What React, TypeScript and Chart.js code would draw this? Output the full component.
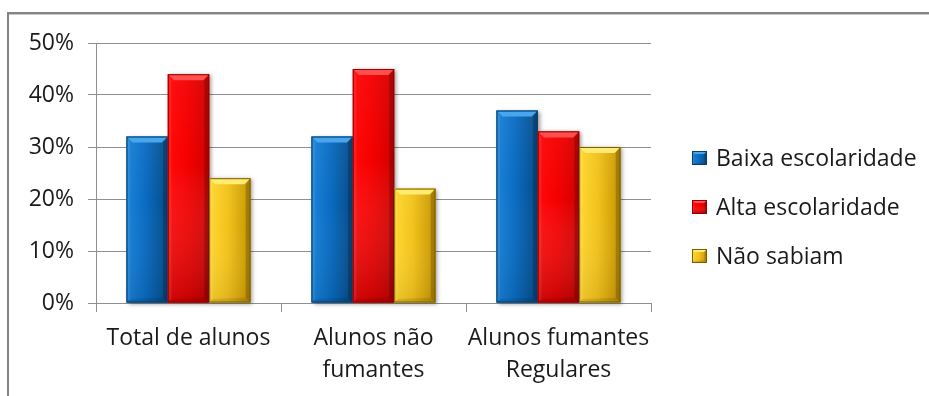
import React, { useEffect, useRef } from 'react';
import { Chart, registerables } from 'chart.js';

Chart.register(...registerables);

const categories: string[][] = [['Total de alunos'], ['Alunos não', 'fumantes'], ['Alunos fumantes', 'Regulares']];
const seriesNames = ['Baixa escolaridade', 'Alta escolaridade', 'Não sabiam'];
const baixaEscolaridade = [32, 32, 37];
const altaEscolaridade = [44, 45, 33];
const naoSabiam = [24, 22, 30];
const yTickValues = [0, 10, 20, 30, 40, 50];

type Pal = { base: string; left: string; mid: string; right: string; top: string; bottomTint: string; edge: string };

const palettes: Pal[] = [
  { base: '#0b6fc6', left: '#1a82d8', mid: '#0a6cc2', right: '#064a86', top: '#4aa6ec', bottomTint: 'rgba(0,0,0,0.08)', edge: '#06406f' },
  { base: '#ff0000', left: '#ff0808', mid: '#f60000', right: '#d00000', top: '#ff5050', bottomTint: 'rgba(80,0,0,0.28)', edge: '#9a0000' },
  { base: '#f5c518', left: '#ffd830', mid: '#f2c21c', right: '#c49400', top: '#ffec70', bottomTint: 'rgba(60,40,0,0.10)', edge: '#7c6000' },
];

const FONT = "'Open Sans', 'DejaVu Sans', sans-serif";
const TEXT = '#1a1a1a';
const GRID = '#8f8f8f';

function drawBevelRect(ctx: CanvasRenderingContext2D, L: number, T: number, R: number, B: number, p: Pal, b: number, shadow: boolean) {
  const w = R - L;
  const h = B - T;
  if (h <= 0) return;
  if (shadow) {
    ctx.save();
    ctx.shadowColor = 'rgba(0,0,0,0.4)';
    ctx.shadowBlur = 4;
    ctx.shadowOffsetX = 2;
    ctx.shadowOffsetY = 1;
    ctx.fillStyle = p.mid;
    ctx.fillRect(L, T, w, h);
    ctx.restore();
  }
  const g = ctx.createLinearGradient(L, 0, R, 0);
  g.addColorStop(0, p.left);
  g.addColorStop(0.45, p.mid);
  g.addColorStop(1, p.right);
  ctx.fillStyle = g;
  ctx.fillRect(L, T, w, h);
  const v = ctx.createLinearGradient(0, T, 0, B);
  v.addColorStop(0, 'rgba(255,255,255,0.04)');
  v.addColorStop(0.4, 'rgba(255,255,255,0)');
  v.addColorStop(1, p.bottomTint);
  ctx.fillStyle = v;
  ctx.fillRect(L, T, w, h);
  // top bevel
  ctx.beginPath();
  ctx.moveTo(L, T);
  ctx.lineTo(R, T);
  ctx.lineTo(R - b, T + b);
  ctx.lineTo(L + b, T + b);
  ctx.closePath();
  ctx.fillStyle = p.top;
  ctx.fill();
  // right bevel
  ctx.beginPath();
  ctx.moveTo(R, T);
  ctx.lineTo(R, B);
  ctx.lineTo(R - b * 0.8, B - b * 0.8);
  ctx.lineTo(R - b * 0.8, T + b);
  ctx.closePath();
  ctx.fillStyle = 'rgba(0,0,0,0.2)';
  ctx.fill();
  // left bevel
  ctx.beginPath();
  ctx.moveTo(L, T);
  ctx.lineTo(L + b * 0.6, T + b);
  ctx.lineTo(L + b * 0.6, B - b * 0.6);
  ctx.lineTo(L, B);
  ctx.closePath();
  ctx.fillStyle = 'rgba(255,255,255,0.08)';
  ctx.fill();
  // bottom bevel
  ctx.beginPath();
  ctx.moveTo(L, B);
  ctx.lineTo(R, B);
  ctx.lineTo(R - b * 0.8, B - b * 0.8);
  ctx.lineTo(L + b * 0.6, B - b * 0.6);
  ctx.closePath();
  ctx.fillStyle = 'rgba(0,0,0,0.1)';
  ctx.fill();
  ctx.strokeStyle = p.edge;
  ctx.lineWidth = 1;
  ctx.strokeRect(L + 0.5, T + 0.5, w - 1, h - 1);
}

const bevelBarsPlugin = {
  id: 'bevelBars',
  afterDatasetsDraw(chart: any) {
    const ctx = chart.ctx as CanvasRenderingContext2D;
    ctx.save();
    chart.data.datasets.forEach((_ds: any, i: number) => {
      const meta = chart.getDatasetMeta(i);
      const p = palettes[i];
      meta.data.forEach((bar: any) => {
        const { x, y, base, width } = bar.getProps(['x', 'y', 'base', 'width'], true);
        drawBevelRect(ctx, x - width / 2, Math.min(y, base), x + width / 2, Math.max(y, base), p, 6, true);
      });
    });
    ctx.restore();
  },
};

const legendPlugin = {
  id: 'sideLegend',
  afterDraw(chart: any) {
    const ctx = chart.ctx as CanvasRenderingContext2D;
    const area = chart.chartArea;
    const x0 = area.right + 41;
    const midY = (area.top + area.bottom) / 2 + 34;
    const gap = 49;
    const n = chart.data.datasets.length;
    ctx.save();
    ctx.font = `23px ${FONT}`;
    ctx.fillStyle = TEXT;
    ctx.textBaseline = 'middle';
    ctx.textAlign = 'left';
    chart.data.datasets.forEach((ds: any, i: number) => {
      const cy = midY + (i - (n - 1) / 2) * gap;
      drawBevelRect(ctx, x0, cy - 7, x0 + 15, cy + 7, palettes[i], 3, false);
      ctx.fillStyle = TEXT;
      ctx.fillText(ds.label, x0 + 24, cy + 1);
    });
    ctx.restore();
  },
};

export default function App() {
  const ref = useRef<HTMLCanvasElement | null>(null);

  useEffect(() => {
    if (!ref.current) return;
    const seriesValues = [baixaEscolaridade, altaEscolaridade, naoSabiam];
    const chart = new Chart(ref.current, {
      type: 'bar',
      data: {
        labels: categories,
        datasets: seriesNames.map((name, i) => ({
          label: name,
          data: seriesValues[i],
          backgroundColor: palettes[i].base,
          borderWidth: 0,
          categoryPercentage: 0.67,
          barPercentage: 1,
        })),
      },
      options: {
        responsive: false,
        animation: false,
        events: [],
        layout: { padding: { top: 43, right: 278, bottom: 0, left: 0 } },
        plugins: { legend: { display: false }, tooltip: { enabled: false } },
        scales: {
          x: {
            grid: { offset: true, drawOnChartArea: false, drawTicks: true, tickLength: 9, color: GRID, lineWidth: 1 },
            border: { display: true, color: GRID, width: 1 },
            ticks: { font: { family: FONT, size: 23, lineHeight: 1.4 }, color: TEXT, padding: 10, maxRotation: 0, autoSkip: false },
            afterFit: (s: any) => { s.height = 93; },
          },
          y: {
            min: 0,
            max: 50,
            afterBuildTicks: (s: any) => { s.ticks = yTickValues.map((v) => ({ value: v })); },
            ticks: { font: { family: FONT, size: 23 }, color: TEXT, padding: 14, callback: (v: any) => `${v}%` },
            grid: { color: GRID, lineWidth: 1, tickLength: 8 },
            border: { display: true, color: GRID, width: 1 },
            afterFit: (s: any) => { s.width = 96; },
          },
        },
      },
      plugins: [bevelBarsPlugin, legendPlugin],
    } as any);
    return () => chart.destroy();
  }, []);

  return (
    <div style={{ position: 'fixed', left: 0, top: 0, width: 929, height: 396, background: '#fff', overflow: 'hidden' }}>
      <canvas ref={ref} width={929} height={396} style={{ position: 'absolute', left: 0, top: 0 }} />
      <div
        style={{
          position: 'absolute', left: 7, top: 12, right: -5, bottom: -5,
          borderTop: '2px solid #858585', borderLeft: '2px solid #858585',
          boxShadow: 'inset 0 1px 0 #c8c8c8', pointerEvents: 'none',
        }}
      />
    </div>
  );
}
